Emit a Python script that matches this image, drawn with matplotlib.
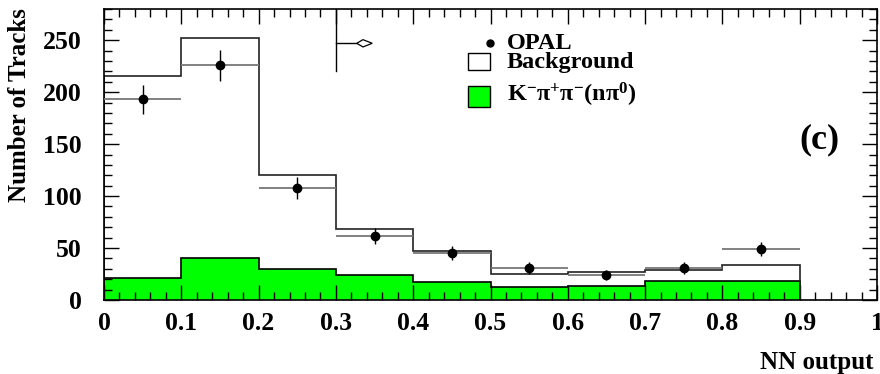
import matplotlib.pyplot as plt
from matplotlib.ticker import MultipleLocator
from matplotlib.patches import Rectangle, Polygon
import numpy as np

plt.rcParams['font.family'] = ['Liberation Serif', 'DejaVu Serif']
plt.rcParams['font.weight'] = 'bold'
plt.rcParams['mathtext.fontset'] = 'custom'
plt.rcParams['mathtext.rm'] = 'Liberation Serif:bold'
plt.rcParams['mathtext.bf'] = 'Liberation Serif:bold'
plt.rcParams['mathtext.it'] = 'Liberation Serif:bold'

## donnees
edges = [0.0, 0.1, 0.2, 0.3, 0.4, 0.5, 0.6, 0.7, 0.8, 0.9]
total = [216, 252, 120, 68, 47.5, 25, 26.5, 29, 33.3]      # signal + background
signal = [21.5, 40.5, 29.5, 23.7, 17.5, 12.8, 13.5, 18, 18]
opal = [193, 226, 108, 61.5, 45.5, 31, 24, 31, 49]
opal_err = [14, 15, 10.4, 7.8, 6.7, 5.6, 4.9, 5.6, 7]
cut = 0.3

edges = np.array(edges)
centres = (edges[:-1] + edges[1:]) / 2
largeur = edges[1] - edges[0]

fig = plt.figure(figsize=(8.8, 3.74), dpi=100)
ax = fig.add_axes([104/880, 1 - 300/374, 773/880, 291/374])

# signal (vert)
sig_step = np.append(signal, signal[-1])
ax.fill_between(edges, sig_step, step='post', color='#00ff00', lw=0, zorder=1)
ax.stairs(signal, edges, color='black', lw=1.2, zorder=2)

# total
ax.stairs(total, edges, color='#222222', lw=1.2, zorder=2)

# points OPAL
ax.errorbar(centres, opal, xerr=largeur/2, fmt='none', ecolor='#777777',
            elinewidth=1.3, capsize=0, zorder=3)
ax.errorbar(centres, opal, yerr=opal_err, fmt='o', color='black', ms=6,
            elinewidth=1.0, capsize=0, zorder=4)

# coupure + fleche
ax.plot([cut, cut], [220, 280], color='black', lw=1.0, zorder=3)
ax.plot([cut, cut + 0.027], [247, 247], color='black', lw=1.0, zorder=3)
ax.add_patch(Polygon([[cut + 0.027, 247], [cut + 0.035, 250.5],
                      [cut + 0.047, 247], [cut + 0.035, 243.5]],
                     closed=True, fc='white', ec='black', lw=0.9, zorder=3))

ax.set_xlim(0, 1)
ax.set_ylim(0, 280)
ax.xaxis.set_major_locator(MultipleLocator(0.1))
ax.xaxis.set_minor_locator(MultipleLocator(0.02))
ax.yaxis.set_major_locator(MultipleLocator(50))
ax.yaxis.set_minor_locator(MultipleLocator(10))
ax.tick_params(which='both', direction='in', top=True, right=True, width=1.0)
ax.tick_params(which='major', length=11)
ax.tick_params(which='minor', length=5.5)
ax.tick_params(axis='x', which='major', labelsize=18.5, pad=9)
ax.tick_params(axis='y', which='major', labelsize=18.5, pad=16)
ax.xaxis.set_major_formatter(lambda v, p: '0' if v == 0 else ('1' if v == 1 else f'{v:.1f}'))
for s in ax.spines.values():
    s.set_linewidth(1.2)

fig.text(20/880, 1 - 8/374, 'Number of Tracks', rotation=90, ha='center',
         va='top', fontsize=18, fontweight='bold')
fig.text(873/880, 1 - 362/374, 'NN output', ha='right', va='center',
         fontsize=18, fontweight='bold')

# legende
ax.plot([0.4994], [0.883], 'o', color='black', ms=5, transform=ax.transAxes)
ax.text(0.521, 0.883, 'OPAL', transform=ax.transAxes, va='center', fontsize=17.5)
ax.add_patch(Rectangle((0.471, 0.790), 0.028, 0.059, transform=ax.transAxes,
                       fc='white', ec='black', lw=1.0))
ax.text(0.521, 0.816, 'Background', transform=ax.transAxes, va='center', fontsize=17.5)
ax.add_patch(Rectangle((0.471, 0.663), 0.028, 0.072, transform=ax.transAxes,
                       fc='#00ff00', ec='black', lw=1.0))
ax.text(0.521, 0.705, r'$\mathbf{K^{-}\pi^{+}\pi^{-}(n\pi^{0})}$',
        transform=ax.transAxes, va='center', fontsize=17.5)

ax.text(0.952, 0.55, '(c)', transform=ax.transAxes, ha='right', va='center',
        fontsize=26, fontweight='bold')

fig.savefig('out.png', dpi=100)
